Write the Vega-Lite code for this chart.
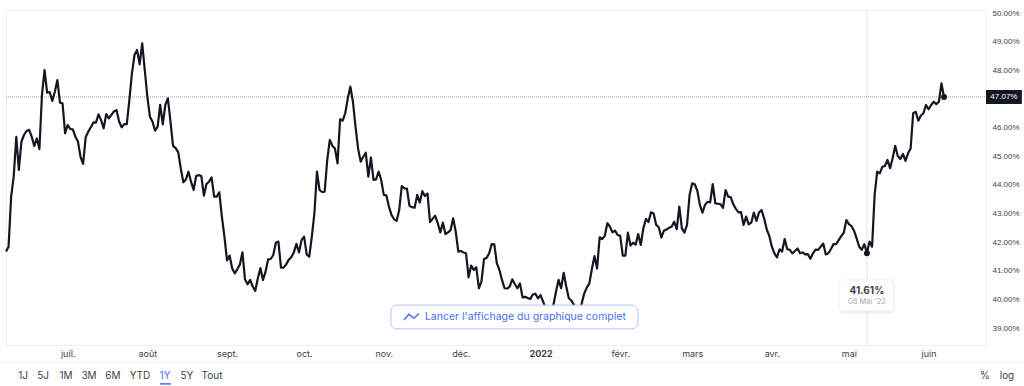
{"$schema":"https://vega.github.io/schema/vega-lite/v6.json","autosize":"none","width":980,"height":335,"padding":{"left":6,"top":10,"right":38,"bottom":41},"background":"white",
"config":{"view":{"stroke":"#eeeeee","strokeWidth":1},"font":"Inter"},
"datasets":{"series":[
{"d":"2021-06-07","v":41.67},{"d":"2021-06-08","v":41.84},{"d":"2021-06-09","v":43.59},{"d":"2021-06-10","v":44.29},{"d":"2021-06-11","v":45.68},{"d":"2021-06-12","v":44.52},{"d":"2021-06-13","v":45.51},{"d":"2021-06-14","v":45.74},{"d":"2021-06-15","v":45.88},{"d":"2021-06-16","v":45.92},{"d":"2021-06-17","v":45.68},{"d":"2021-06-18","v":45.36},{"d":"2021-06-19","v":45.62},{"d":"2021-06-20","v":45.25},{"d":"2021-06-21","v":47.14},{"d":"2021-06-22","v":48.01},{"d":"2021-06-23","v":47.22},{"d":"2021-06-24","v":47.24},{"d":"2021-06-25","v":46.93},{"d":"2021-06-26","v":47.25},{"d":"2021-06-27","v":47.66},{"d":"2021-06-28","v":46.87},{"d":"2021-06-29","v":46.85},{"d":"2021-06-30","v":45.80},
{"d":"2021-07-01","v":46.09},{"d":"2021-07-02","v":45.95},{"d":"2021-07-03","v":45.94},{"d":"2021-07-04","v":45.68},{"d":"2021-07-05","v":45.51},{"d":"2021-07-06","v":44.98},{"d":"2021-07-07","v":44.73},{"d":"2021-07-08","v":45.66},{"d":"2021-07-09","v":45.86},{"d":"2021-07-10","v":46.01},{"d":"2021-07-11","v":46.18},{"d":"2021-07-12","v":46.17},{"d":"2021-07-13","v":46.46},{"d":"2021-07-14","v":46.26},{"d":"2021-07-15","v":45.97},{"d":"2021-07-16","v":46.47},{"d":"2021-07-17","v":46.32},{"d":"2021-07-18","v":46.44},{"d":"2021-07-19","v":46.56},{"d":"2021-07-20","v":46.61},{"d":"2021-07-21","v":46.21},{"d":"2021-07-22","v":46.01},{"d":"2021-07-23","v":46.12},{"d":"2021-07-24","v":46.12},{"d":"2021-07-25","v":46.96},{"d":"2021-07-26","v":47.89},{"d":"2021-07-27","v":48.53},{"d":"2021-07-28","v":48.71},{"d":"2021-07-29","v":48.21},{"d":"2021-07-30","v":48.94},{"d":"2021-07-31","v":48.01},
{"d":"2021-08-01","v":47.08},{"d":"2021-08-02","v":46.38},{"d":"2021-08-03","v":46.21},{"d":"2021-08-04","v":45.89},{"d":"2021-08-05","v":46.03},{"d":"2021-08-06","v":46.79},{"d":"2021-08-07","v":46.11},{"d":"2021-08-08","v":46.79},{"d":"2021-08-09","v":47.02},{"d":"2021-08-10","v":46.21},{"d":"2021-08-11","v":45.36},{"d":"2021-08-12","v":45.28},{"d":"2021-08-13","v":45.14},{"d":"2021-08-14","v":44.58},{"d":"2021-08-15","v":44.09},{"d":"2021-08-16","v":44.19},{"d":"2021-08-17","v":44.46},{"d":"2021-08-18","v":44.11},{"d":"2021-08-19","v":43.82},{"d":"2021-08-20","v":44.31},{"d":"2021-08-21","v":44.34},{"d":"2021-08-22","v":44.31},{"d":"2021-08-23","v":43.62},{"d":"2021-08-24","v":44.03},{"d":"2021-08-25","v":44.11},{"d":"2021-08-26","v":44.26},{"d":"2021-08-27","v":43.59},{"d":"2021-08-28","v":43.59},{"d":"2021-08-29","v":43.74},{"d":"2021-08-30","v":42.89},{"d":"2021-08-31","v":42.19},
{"d":"2021-09-01","v":41.36},{"d":"2021-09-02","v":41.53},{"d":"2021-09-03","v":41.09},{"d":"2021-09-04","v":40.91},{"d":"2021-09-05","v":41.05},{"d":"2021-09-06","v":41.22},{"d":"2021-09-07","v":41.64},{"d":"2021-09-08","v":40.70},{"d":"2021-09-09","v":40.53},{"d":"2021-09-10","v":40.68},{"d":"2021-09-11","v":40.45},{"d":"2021-09-12","v":40.30},{"d":"2021-09-13","v":40.74},{"d":"2021-09-14","v":41.09},{"d":"2021-09-15","v":40.68},{"d":"2021-09-16","v":40.97},{"d":"2021-09-17","v":41.40},{"d":"2021-09-18","v":41.41},{"d":"2021-09-19","v":41.55},{"d":"2021-09-20","v":41.98},{"d":"2021-09-21","v":42.02},{"d":"2021-09-22","v":41.11},{"d":"2021-09-23","v":41.11},{"d":"2021-09-24","v":41.22},{"d":"2021-09-25","v":41.38},{"d":"2021-09-26","v":41.47},{"d":"2021-09-27","v":41.64},{"d":"2021-09-28","v":41.94},{"d":"2021-09-29","v":41.64},{"d":"2021-09-30","v":42.07},
{"d":"2021-10-01","v":42.19},{"d":"2021-10-02","v":41.57},{"d":"2021-10-03","v":41.49},{"d":"2021-10-04","v":42.19},{"d":"2021-10-05","v":43.00},{"d":"2021-10-06","v":44.46},{"d":"2021-10-07","v":43.82},{"d":"2021-10-08","v":43.75},{"d":"2021-10-09","v":43.76},{"d":"2021-10-10","v":44.87},{"d":"2021-10-11","v":45.57},{"d":"2021-10-12","v":45.36},{"d":"2021-10-13","v":45.27},{"d":"2021-10-14","v":44.75},{"d":"2021-10-15","v":46.29},{"d":"2021-10-16","v":46.24},{"d":"2021-10-17","v":46.50},{"d":"2021-10-18","v":47.02},{"d":"2021-10-19","v":47.43},{"d":"2021-10-20","v":46.90},{"d":"2021-10-21","v":46.03},{"d":"2021-10-22","v":45.27},{"d":"2021-10-23","v":44.81},{"d":"2021-10-24","v":44.98},{"d":"2021-10-25","v":45.12},{"d":"2021-10-26","v":44.29},{"d":"2021-10-27","v":44.96},{"d":"2021-10-28","v":44.17},{"d":"2021-10-29","v":44.19},{"d":"2021-10-30","v":44.46},{"d":"2021-10-31","v":44.17},
{"d":"2021-11-01","v":43.65},{"d":"2021-11-02","v":43.63},{"d":"2021-11-03","v":43.24},{"d":"2021-11-04","v":42.95},{"d":"2021-11-05","v":42.80},{"d":"2021-11-06","v":42.74},{"d":"2021-11-07","v":43.12},{"d":"2021-11-08","v":43.96},{"d":"2021-11-09","v":43.88},{"d":"2021-11-10","v":43.87},{"d":"2021-11-11","v":43.27},{"d":"2021-11-12","v":43.22},{"d":"2021-11-13","v":43.20},{"d":"2021-11-14","v":43.65},{"d":"2021-11-15","v":43.38},{"d":"2021-11-16","v":43.78},{"d":"2021-11-17","v":43.61},{"d":"2021-11-18","v":43.70},{"d":"2021-11-19","v":42.70},{"d":"2021-11-20","v":42.81},{"d":"2021-11-21","v":42.92},{"d":"2021-11-22","v":42.66},{"d":"2021-11-23","v":42.34},{"d":"2021-11-24","v":42.68},{"d":"2021-11-25","v":42.28},{"d":"2021-11-26","v":42.34},{"d":"2021-11-27","v":42.42},{"d":"2021-11-28","v":42.83},{"d":"2021-11-29","v":42.37},{"d":"2021-11-30","v":41.67},
{"d":"2021-12-01","v":41.69},{"d":"2021-12-02","v":41.64},{"d":"2021-12-03","v":41.61},{"d":"2021-12-04","v":40.77},{"d":"2021-12-05","v":41.18},{"d":"2021-12-06","v":41.03},{"d":"2021-12-07","v":41.12},{"d":"2021-12-08","v":40.39},{"d":"2021-12-09","v":40.62},{"d":"2021-12-10","v":41.41},{"d":"2021-12-11","v":41.45},{"d":"2021-12-12","v":41.61},{"d":"2021-12-13","v":41.93},{"d":"2021-12-14","v":41.92},{"d":"2021-12-15","v":41.26},{"d":"2021-12-16","v":41.03},{"d":"2021-12-17","v":40.68},{"d":"2021-12-18","v":40.39},{"d":"2021-12-19","v":40.38},{"d":"2021-12-20","v":40.45},{"d":"2021-12-21","v":40.70},{"d":"2021-12-22","v":40.53},{"d":"2021-12-23","v":40.39},{"d":"2021-12-24","v":40.56},{"d":"2021-12-25","v":40.07},{"d":"2021-12-26","v":40.09},{"d":"2021-12-27","v":40.05},{"d":"2021-12-28","v":40.02},{"d":"2021-12-29","v":40.17},{"d":"2021-12-30","v":40.20},{"d":"2021-12-31","v":40.04},
{"d":"2022-01-01","v":40.15},{"d":"2022-01-02","v":39.92},{"d":"2022-01-03","v":39.69},{"d":"2022-01-04","v":39.45},{"d":"2022-01-05","v":39.51},{"d":"2022-01-06","v":39.80},{"d":"2022-01-07","v":40.27},{"d":"2022-01-08","v":40.68},{"d":"2022-01-09","v":40.39},{"d":"2022-01-10","v":40.93},{"d":"2022-01-11","v":40.45},{"d":"2022-01-12","v":40.04},{"d":"2022-01-13","v":39.96},{"d":"2022-01-14","v":39.80},{"d":"2022-01-15","v":39.40},{"d":"2022-01-16","v":39.51},{"d":"2022-01-17","v":39.86},{"d":"2022-01-18","v":40.21},{"d":"2022-01-19","v":40.41},{"d":"2022-01-20","v":40.56},{"d":"2022-01-21","v":41.08},{"d":"2022-01-22","v":41.51},{"d":"2022-01-23","v":41.08},{"d":"2022-01-24","v":42.17},{"d":"2022-01-25","v":42.11},{"d":"2022-01-26","v":42.22},{"d":"2022-01-27","v":42.66},{"d":"2022-01-28","v":42.54},{"d":"2022-01-29","v":42.34},{"d":"2022-01-30","v":42.40},{"d":"2022-01-31","v":42.25},
{"d":"2022-02-01","v":42.22},{"d":"2022-02-02","v":41.53},{"d":"2022-02-03","v":41.53},{"d":"2022-02-04","v":42.33},{"d":"2022-02-05","v":41.88},{"d":"2022-02-06","v":41.98},{"d":"2022-02-07","v":41.91},{"d":"2022-02-08","v":42.28},{"d":"2022-02-09","v":41.90},{"d":"2022-02-10","v":42.48},{"d":"2022-02-11","v":42.81},{"d":"2022-02-12","v":42.70},{"d":"2022-02-13","v":43.04},{"d":"2022-02-14","v":43.00},{"d":"2022-02-15","v":42.60},{"d":"2022-02-16","v":42.52},{"d":"2022-02-17","v":42.16},{"d":"2022-02-18","v":42.40},{"d":"2022-02-19","v":42.44},{"d":"2022-02-20","v":42.50},{"d":"2022-02-21","v":42.54},{"d":"2022-02-22","v":42.71},{"d":"2022-02-23","v":42.45},{"d":"2022-02-24","v":43.24},{"d":"2022-02-25","v":42.48},{"d":"2022-02-26","v":42.33},{"d":"2022-02-27","v":42.60},{"d":"2022-02-28","v":43.65},
{"d":"2022-03-01","v":44.05},{"d":"2022-03-02","v":44.02},{"d":"2022-03-03","v":43.80},{"d":"2022-03-04","v":43.30},{"d":"2022-03-05","v":43.03},{"d":"2022-03-06","v":43.30},{"d":"2022-03-07","v":43.41},{"d":"2022-03-08","v":43.39},{"d":"2022-03-09","v":44.03},{"d":"2022-03-10","v":43.35},{"d":"2022-03-11","v":43.34},{"d":"2022-03-12","v":43.33},{"d":"2022-03-13","v":43.20},{"d":"2022-03-14","v":43.82},{"d":"2022-03-15","v":43.59},{"d":"2022-03-16","v":43.57},{"d":"2022-03-17","v":43.32},{"d":"2022-03-18","v":43.16},{"d":"2022-03-19","v":43.04},{"d":"2022-03-20","v":43.05},{"d":"2022-03-21","v":42.60},{"d":"2022-03-22","v":42.89},{"d":"2022-03-23","v":42.62},{"d":"2022-03-24","v":42.68},{"d":"2022-03-25","v":43.03},{"d":"2022-03-26","v":42.74},{"d":"2022-03-27","v":43.03},{"d":"2022-03-28","v":43.12},{"d":"2022-03-29","v":42.83},{"d":"2022-03-30","v":42.45},{"d":"2022-03-31","v":42.22},
{"d":"2022-04-01","v":41.84},{"d":"2022-04-02","v":41.61},{"d":"2022-04-03","v":41.47},{"d":"2022-04-04","v":41.75},{"d":"2022-04-05","v":41.67},{"d":"2022-04-06","v":42.11},{"d":"2022-04-07","v":41.75},{"d":"2022-04-08","v":41.73},{"d":"2022-04-09","v":41.61},{"d":"2022-04-10","v":41.69},{"d":"2022-04-11","v":41.78},{"d":"2022-04-12","v":41.61},{"d":"2022-04-13","v":41.64},{"d":"2022-04-14","v":41.57},{"d":"2022-04-15","v":41.58},{"d":"2022-04-16","v":41.42},{"d":"2022-04-17","v":41.61},{"d":"2022-04-18","v":41.74},{"d":"2022-04-19","v":41.73},{"d":"2022-04-20","v":41.84},{"d":"2022-04-21","v":41.95},{"d":"2022-04-22","v":41.57},{"d":"2022-04-23","v":41.61},{"d":"2022-04-24","v":41.76},{"d":"2022-04-25","v":41.93},{"d":"2022-04-26","v":41.93},{"d":"2022-04-27","v":42.07},{"d":"2022-04-28","v":42.21},{"d":"2022-04-29","v":42.33},{"d":"2022-04-30","v":42.77},
{"d":"2022-05-01","v":42.63},{"d":"2022-05-02","v":42.56},{"d":"2022-05-03","v":42.39},{"d":"2022-05-04","v":42.13},{"d":"2022-05-05","v":41.84},{"d":"2022-05-06","v":41.73},{"d":"2022-05-07","v":41.93},{"d":"2022-05-08","v":41.61},{"d":"2022-05-09","v":42.02},{"d":"2022-05-10","v":41.84},{"d":"2022-05-11","v":43.65},{"d":"2022-05-12","v":44.46},{"d":"2022-05-13","v":44.40},{"d":"2022-05-14","v":44.63},{"d":"2022-05-15","v":44.66},{"d":"2022-05-16","v":44.87},{"d":"2022-05-17","v":44.58},{"d":"2022-05-18","v":44.93},{"d":"2022-05-19","v":45.36},{"d":"2022-05-20","v":45.01},{"d":"2022-05-21","v":44.90},{"d":"2022-05-22","v":45.08},{"d":"2022-05-23","v":44.84},{"d":"2022-05-24","v":45.10},{"d":"2022-05-25","v":45.27},{"d":"2022-05-26","v":46.50},{"d":"2022-05-27","v":46.55},{"d":"2022-05-28","v":46.24},{"d":"2022-05-29","v":46.42},{"d":"2022-05-30","v":46.50},{"d":"2022-05-31","v":46.79},
{"d":"2022-06-01","v":46.64},{"d":"2022-06-02","v":46.79},{"d":"2022-06-03","v":46.90},{"d":"2022-06-04","v":46.82},{"d":"2022-06-05","v":46.90},{"d":"2022-06-06","v":47.54},{"d":"2022-06-07","v":47.07}
]},
"data":{"name":"series"},
"encoding":{
"x":{"field":"d","type":"temporal","title":null,"scale":{"type":"utc","domain":[{"year":2021,"month":6,"date":7,"utc":true},{"year":2022,"month":6,"date":23,"hours":8,"utc":true}]},
"axis":{"orient":"bottom","grid":false,"ticks":false,"domain":false,"labelPadding":4,"labelFontSize":9,"labelColor":"#3a3f4b","labelOverlap":false,"labelFlush":false,"labelAngle":0,
"values":[{"year":2021,"month":7,"date":1,"utc":true},{"year":2021,"month":8,"date":1,"utc":true},{"year":2021,"month":9,"date":1,"utc":true},{"year":2021,"month":10,"date":1,"utc":true},{"year":2021,"month":11,"date":1,"utc":true},{"year":2021,"month":12,"date":1,"utc":true},{"year":2022,"month":1,"date":1,"utc":true},{"year":2022,"month":2,"date":1,"utc":true},{"year":2022,"month":3,"date":1,"utc":true},{"year":2022,"month":4,"date":1,"utc":true},{"year":2022,"month":5,"date":1,"utc":true},{"year":2022,"month":6,"date":1,"utc":true}],
"labelExpr":"['2022','févr.','mars','avr.','mai','juin','juil.','août','sept.','oct.','nov.','déc.'][utcmonth(datum.value)]",
"labelFontWeight":{"condition":{"test":"utcmonth(datum.value)===0","value":700},"value":400}}},
"y":{"field":"v","type":"quantitative","title":null,"scale":{"domain":[38.408,50.105],"nice":false,"zero":false},
"axis":{"orient":"right","grid":false,"ticks":false,"domain":false,"labelPadding":6,"labelFont":"Liberation Sans","labelFontSize":8,"labelColor":"#3a3f4b","values":[39,40,41,42,43,44,45,46,47,48,49,50],"labelExpr":"format(datum.value,'.2f')+'%'","labelOverlap":false}}
},
"layer":[
{"data":{"values":[{"d":"2022-05-08","v":38.408,"v2":50.105}]},"mark":{"type":"rule","color":"#e3e3e3","strokeWidth":1},"encoding":{"y2":{"field":"v2"}}},
{"data":{"values":[{"d":"2021-06-07","v":47.07,"d2":"2022-06-23T08:00:00Z"}]},"mark":{"type":"rule","color":"#9a9a9a","strokeWidth":1,"strokeDash":[1,1]},"encoding":{"x2":{"field":"d2"}}},
{"data":{"values":[{"d":"2021-06-04T16:00:00Z","v":37.81,"d2":"2022-07-08T00:00:00Z"}]},"mark":{"type":"rule","color":"#eeeeee","strokeWidth":1},"encoding":{"x2":{"field":"d2"}}},
{"mark":{"type":"line","color":"#131722","strokeWidth":2.2,"interpolate":"linear","strokeJoin":"round"}},
{"data":{"values":[{"d":"2022-05-08","v":41.61},{"d":"2022-06-07","v":47.07}]},"mark":{"type":"point","filled":true,"color":"#131722","size":36,"opacity":1}},
{"data":{"values":[{"d":"2021-11-03T19:00:00Z","v":39.80,"d2":"2022-02-07T22:00:00Z","v2":38.97}]},"mark":{"type":"rect","fill":"white","stroke":"#b4c3fb","strokeWidth":1,"cornerRadius":6},"encoding":{"x2":{"field":"d2"},"y2":{"field":"v2"}}},
{"data":{"values":[{"d":"2021-11-08T21:00:00Z","v":39.28},{"d":"2021-11-10T19:00:00Z","v":39.48},{"d":"2021-11-12T18:00:00Z","v":39.34},{"d":"2021-11-14T17:00:00Z","v":39.51}]},"mark":{"type":"line","color":"#4a6ff0","strokeWidth":1.5}},
{"data":{"values":[{"d":"2021-11-17T00:00:00Z","v":39.385,"t":"Lancer l'affichage du graphique complet"}]},"mark":{"type":"text","align":"left","baseline":"middle","color":"#4a6ff0","fontSize":10.5,"font":"Inter"},"encoding":{"text":{"field":"t"}}},
{"data":{"values":[{"d":"2022-04-27T12:00:00Z","v":40.6,"d2":"2022-05-18T20:00:00Z","v2":39.51}]},"mark":{"type":"rect","fill":"#000000","opacity":0.06,"cornerRadius":5},"encoding":{"x2":{"field":"d2"},"y2":{"field":"v2"}}},
{"data":{"values":[{"d":"2022-04-27T03:00:00Z","v":40.68,"d2":"2022-05-18T12:00:00Z","v2":39.595}]},"mark":{"type":"rect","fill":"white","stroke":"#f0f0f0","strokeWidth":1,"cornerRadius":4},"encoding":{"x2":{"field":"d2"},"y2":{"field":"v2"}}},
{"data":{"values":[{"d":"2022-05-08","v":40.29,"t":"41.61%"}]},"mark":{"type":"text","align":"center","baseline":"middle","color":"#3a3f4b","fontSize":10,"fontWeight":700},"encoding":{"text":{"field":"t"}}},
{"data":{"values":[{"d":"2022-05-08","v":39.92,"t":"08 Mai '22"}]},"mark":{"type":"text","align":"center","baseline":"middle","color":"#a8a8a8","fontSize":7.5},"encoding":{"text":{"field":"t"}}},
{"data":{"values":[{"d":"2022-06-23T08:00:00Z","v":47.31,"d2":"2022-07-07T07:00:00Z","v2":46.82}]},"mark":{"type":"rect","fill":"#131722"},"encoding":{"x2":{"field":"d2"},"y2":{"field":"v2"}}},
{"data":{"values":[{"d":"2022-06-30T07:00:00Z","v":47.07,"t":"47.07%"}]},"mark":{"type":"text","align":"center","baseline":"middle","color":"white","fontSize":8,"font":"Liberation Sans"},"encoding":{"text":{"field":"t"}}},
{"data":{"values":[{"d":"2021-06-13T15:00:00Z","v":37.325,"t":"1J"},{"d":"2021-06-21T10:00:00Z","v":37.325,"t":"5J"},{"d":"2021-06-30T08:00:00Z","v":37.325,"t":"1M"},{"d":"2021-07-09T07:00:00Z","v":37.325,"t":"3M"},{"d":"2021-07-18T15:00:00Z","v":37.325,"t":"6M"},{"d":"2021-07-29T03:00:00Z","v":37.325,"t":"YTD"},{"d":"2021-08-16T10:00:00Z","v":37.325,"t":"5Y"},{"d":"2021-08-26T04:00:00Z","v":37.325,"t":"Tout"},{"d":"2022-06-22T22:00:00Z","v":37.325,"t":"%"},{"d":"2022-07-01T12:00:00Z","v":37.325,"t":"log"}]},"mark":{"type":"text","align":"center","baseline":"middle","color":"#3a3f4b","fontSize":10},"encoding":{"text":{"field":"t"}}},
{"data":{"values":[{"d":"2021-08-07T21:00:00Z","v":37.325,"t":"1Y"}]},"mark":{"type":"text","align":"center","baseline":"middle","color":"#4a6ff0","fontSize":10},"encoding":{"text":{"field":"t"}}},
{"data":{"values":[{"d":"2021-08-05T22:00:00Z","v":37.05,"d2":"2021-08-10T05:00:00Z"}]},"mark":{"type":"rule","color":"#4a6ff0","strokeWidth":1.5},"encoding":{"x2":{"field":"d2"}}}
]}
